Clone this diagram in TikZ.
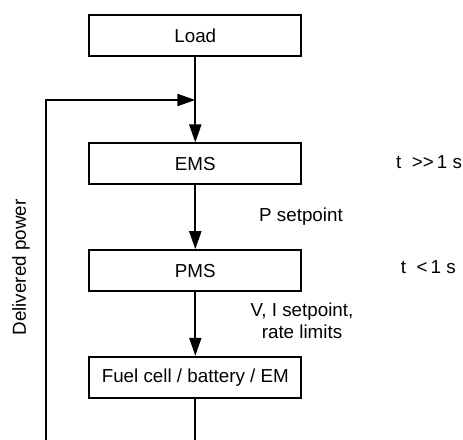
\documentclass[tikz,border=0pt]{standalone}
\usepackage{fontspec}
\setmainfont{Liberation Sans}
\usetikzlibrary{arrows.meta}
\begin{document}
\begin{tikzpicture}[x=1pt,y=-1pt,
  font=\fontsize{18.8}{22}\selectfont,
  blockbox/.style={draw=black, line width=2pt, fill=white, minimum width=212pt, minimum height=41pt, inner sep=0pt},
  lbl/.style={inner sep=0pt, align=center},
  conn/.style={line width=2pt, -{Triangle[length=18pt,width=12pt]}},
  plainline/.style={line width=2pt}]
\fill[white] (0,0) rectangle (463,439);
\useasboundingbox (0,0) rectangle (463,439);
\clip (0,0) rectangle (463,439);
\node[blockbox] (load) at (195.3,35.8) {Load};
\node[blockbox] (ems) at (195.3,163.9) {EMS};
\node[blockbox] (pms) at (195.3,270.7) {PMS};
\node[blockbox] (fc) at (195.3,377.3) {Fuel cell / battery / EM};
\coordinate (j) at (195.3,100);
\coordinate (bl) at (46,470);
\draw[conn] (load.south) -- (ems.north);
\draw[conn] (ems.south) -- (pms.north);
\draw[conn] (pms.south) -- (fc.north);
\draw[plainline] (fc.south) -- (fc.south |- bl) -- (bl);
\draw[conn] (bl) -- (bl |- j) -- (j);
\node[lbl] (ps) at (301,216.7) {P setpoint};
\node[lbl] (vi) at (302,320.5) {V, I setpoint,\\rate limits};
\node[lbl, anchor=west] (t1) at (396,161.7) {t\ \ >{}>\,1 s};
\node[lbl, anchor=west] (t2) at (400.7,267.5) {t\ \ <\,1 s};
\node[lbl, rotate=90] (dp) at (21,267.5) {Delivered power};
\end{tikzpicture}
\end{document}
